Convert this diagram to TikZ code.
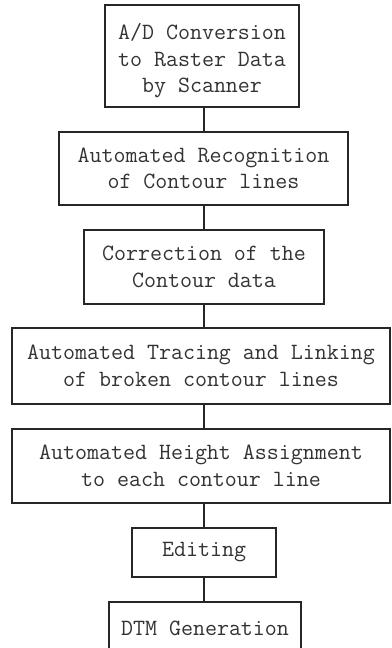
\documentclass[tikz,border=0pt]{standalone}
\usepackage{fontspec}
\setmonofont{Latin Modern Mono}
\begin{document}
\begin{tikzpicture}[x=1pt,y=-1pt,
  box/.style={draw=black!85, line width=1.8pt, inner sep=0pt, align=center,
    text=black!80, font=\ttfamily\fontsize{23.3}{26.7}\selectfont},
  link/.style={draw=black!85, line width=1.8pt}]
\useasboundingbox (0,0) rectangle (391,648);
\clip (0,0) rectangle (391,648);
\fill[white] (0,0) rectangle (391,648);
\node[box, minimum width=194pt, minimum height=102pt] (n1) at (202,56) {\strut\\[-20pt]A/D Conversion\\to Raster Data\\by Scanner};
\node[box, minimum width=289pt, minimum height=73pt] (n2) at (203.5,168.5) {Automated Recognition\\of Contour lines};
\node[box, minimum width=240pt, minimum height=74pt] (n3) at (204,267) {Correction of the\\Contour data};
\node[box, minimum width=378pt, minimum height=76pt] (n4) at (201,366) {Automated Tracing and Linking\\of broken contour lines};
\node[box, minimum width=378pt, minimum height=74pt] (n5) at (201,466) {Automated Height Assignment\\to each contour line};
\node[box, minimum width=144pt, minimum height=49pt] (n6) at (204,552.5) {Editing};
\node[box, minimum width=192pt, minimum height=52pt] (n7) at (205,628) {DTM Generation};
\draw[link] (n1.south -| n6.center) -- (n2.north -| n6.center);
\draw[link] (n2.south -| n6.center) -- (n3.north -| n6.center);
\draw[link] (n3.south -| n6.center) -- (n4.north -| n6.center);
\draw[link] (n4.south -| n6.center) -- (n5.north -| n6.center);
\draw[link] (n5.south -| n6.center) -- (n6.north);
\draw[link] (n6.south) -- (n7.north -| n6.center);
\end{tikzpicture}
\end{document}
